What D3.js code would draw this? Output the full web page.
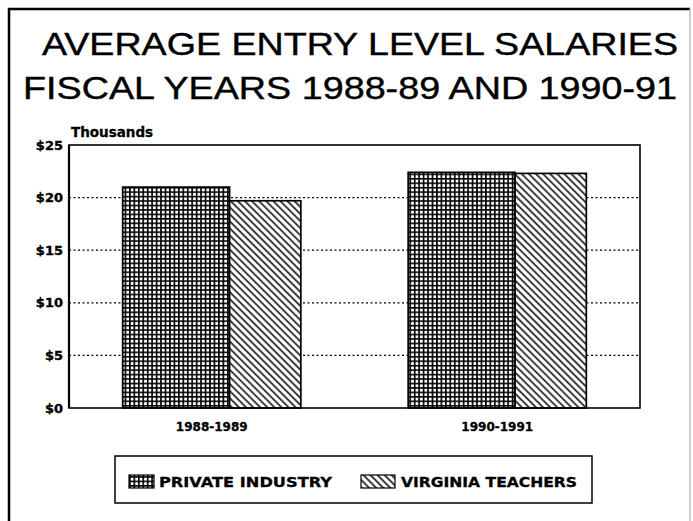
<!DOCTYPE html>
<html>
<head>
<meta charset="utf-8">
<script src="https://cdn.jsdelivr.net/npm/d3@7/dist/d3.min.js"></script>
<style>
  html, body { margin: 0; padding: 0; background: #fff; }
  #chart { width: 693px; height: 521px; }
</style>
</head>
<body>
<div id="chart"></div>
<script>
// chart data
var categories = ["1988-1989", "1990-1991"];
var seriesNames = ["PRIVATE INDUSTRY", "VIRGINIA TEACHERS"];
var privateIndustry = [21.0, 22.4];
var virginiaTeachers = [19.7, 22.3];
var yTicks = [0, 5, 10, 15, 20, 25];
var yTickLabels = ["$0", "$5", "$10", "$15", "$20", "$25"];
var titleLines = ["AVERAGE ENTRY LEVEL SALARIES", "FISCAL YEARS 1988-89 AND 1990-91"];

var visualize = function() {
  var width = 693, height = 521;

  // plot box
  var plot = { left: 69, right: 640, top: 145, bottom: 408 };

  var svg = d3.select("#chart")
    .append("svg")
    .attr("width", width)
    .attr("height", height);

  // hatch patterns
  var defs = svg.append("defs");

  var grid = defs.append("pattern")
    .attr("id", "grid")
    .attr("patternUnits", "userSpaceOnUse")
    .attr("width", 4.45)
    .attr("height", 4.45);
  grid.append("rect").attr("width", 4.45).attr("height", 4.45).attr("fill", "#fff");
  grid.append("path")
    .attr("d", "M0,0.8H4.45M0.8,0V4.45")
    .attr("stroke", "#000")
    .attr("stroke-width", 1.7);

  var hatch = defs.append("pattern")
    .attr("id", "hatch")
    .attr("patternUnits", "userSpaceOnUse")
    .attr("width", 5)
    .attr("height", 5)
    .attr("patternTransform", "rotate(-45)");
  hatch.append("rect").attr("width", 5).attr("height", 5).attr("fill", "#fff");
  hatch.append("line")
    .attr("x1", 1).attr("y1", 0).attr("x2", 1).attr("y2", 5)
    .attr("stroke", "#000")
    .attr("stroke-width", 1.5);

  var fills = ["url(#grid)", "url(#hatch)"];

  // outer frame
  svg.append("path")
    .attr("d", "M9,530V9H690")
    .attr("fill", "none")
    .attr("stroke", "#000")
    .attr("stroke-width", 2.5);
  svg.append("line")
    .attr("x1", 690).attr("y1", 9).attr("x2", 690).attr("y2", 521)
    .attr("stroke", "#bbb")
    .attr("stroke-width", 1.5);

  // title
  var titleX = [42, 23], titleWidths = [636, 654];
  svg.selectAll(".title")
    .data(titleLines)
    .enter().append("text")
    .attr("class", "title")
    .attr("x", function(d, i) { return titleX[i]; })
    .attr("y", function(d, i) { return 55 + i * 43.5; })
    .attr("textLength", function(d, i) { return titleWidths[i]; })
    .attr("lengthAdjust", "spacingAndGlyphs")
    .style("font-family", "'Liberation Sans', Arial, sans-serif")
    .style("font-size", "30.5px")
    .style("fill", "#000")
    .style("stroke", "#000")
    .style("stroke-width", "0.4px")
    .text(function(d) { return d; });

  // scales
  var x0 = d3.scaleBand()
    .domain(categories)
    .range([plot.left, plot.right])
    .padding(0);

  var groupWidth = x0.bandwidth() * 0.624;
  // private bars take the wider share of each group
  var x1 = d3.scaleLinear()
    .domain([0, 1])
    .range([-groupWidth / 2, groupWidth / 2]);
  var shares = [[0, 0.6], [0.6, 1]];

  var y = d3.scaleLinear()
    .domain([0, 25])
    .range([plot.bottom, plot.top]);

  // dotted gridlines
  svg.selectAll(".gridline")
    .data(yTicks.slice(1, -1))
    .enter().append("line")
    .attr("class", "gridline")
    .attr("x1", plot.left)
    .attr("x2", plot.right)
    .attr("y1", function(d) { return y(d); })
    .attr("y2", function(d) { return y(d); })
    .attr("stroke", "#000")
    .attr("stroke-width", 1.2)
    .attr("stroke-dasharray", "2,2.5");

  // bars
  var allSeries = [privateIndustry, virginiaTeachers];
  allSeries.forEach(function(values, s) {
    svg.selectAll(".bar-" + s)
      .data(values)
      .enter().append("rect")
      .attr("class", "bar-" + s)
      .attr("x", function(d, i) { return x0(categories[i]) + x0.bandwidth() / 2 + x1(shares[s][0]); })
      .attr("width", x1(shares[s][1]) - x1(shares[s][0]))
      .attr("y", function(d) { return y(d); })
      .attr("height", function(d) { return y(0) - y(d); })
      .attr("fill", fills[s])
      .attr("stroke", "#000")
      .attr("stroke-width", 1.7);
  });

  // plot frame
  svg.append("rect")
    .attr("x", plot.left)
    .attr("y", plot.top)
    .attr("width", plot.right - plot.left)
    .attr("height", plot.bottom - plot.top)
    .attr("fill", "none")
    .attr("stroke", "#000")
    .attr("stroke-width", 1.6);
  svg.append("line")
    .attr("x1", plot.left).attr("x2", plot.left)
    .attr("y1", plot.top).attr("y2", plot.bottom)
    .attr("stroke", "#000")
    .attr("stroke-width", 2.2);

  // y axis labels
  var yAxis = d3.axisLeft(y)
    .tickValues(yTicks)
    .tickSize(0)
    .tickPadding(6)
    .tickFormat(function(d, i) { return yTickLabels[i]; });
  var yg = svg.append("g")
    .attr("transform", "translate(" + plot.left + ",0)")
    .call(yAxis);
  yg.select(".domain").remove();
  yg.selectAll("text")
    .style("font-family", "'DejaVu Sans', sans-serif")
    .style("font-weight", "bold")
    .style("font-size", "13px")
    .style("stroke", "#000")
    .style("stroke-width", "0.4px")
    .attr("fill", "#000");

  svg.append("text")
    .attr("x", 71)
    .attr("y", 137)
    .style("font-family", "'DejaVu Sans', sans-serif")
    .style("font-weight", "bold")
    .style("font-size", "13.5px")
    .style("stroke", "#000")
    .style("stroke-width", "0.3px")
    .text("Thousands");

  // x axis labels
  var xAxis = d3.axisBottom(x0)
    .tickSize(0)
    .tickPadding(14);
  var xg = svg.append("g")
    .attr("transform", "translate(0," + plot.bottom + ")")
    .call(xAxis);
  xg.select(".domain").remove();
  xg.selectAll("text")
    .style("font-family", "'DejaVu Sans', sans-serif")
    .style("font-weight", "bold")
    .style("font-size", "12px")
    .style("stroke", "#000")
    .style("stroke-width", "0.3px")
    .attr("fill", "#000");

  // legend
  var legend = svg.append("g");
  legend.append("rect")
    .attr("x", 115)
    .attr("y", 456)
    .attr("width", 477)
    .attr("height", 47)
    .attr("fill", "#fff")
    .attr("stroke", "#000")
    .attr("stroke-width", 1.5);

  var swatchX = [129, 361], swatchW = [25, 34], textX = [159, 401], textW = [173, 176];
  seriesNames.forEach(function(name, s) {
    legend.append("rect")
      .attr("x", swatchX[s])
      .attr("y", 475)
      .attr("width", swatchW[s])
      .attr("height", 13)
      .attr("fill", fills[s])
      .attr("stroke", "#000")
      .attr("stroke-width", 1.2);
    legend.append("text")
      .attr("x", textX[s])
      .attr("y", 487)
      .attr("textLength", textW[s])
      .attr("lengthAdjust", "spacingAndGlyphs")
      .style("font-family", "'DejaVu Sans', sans-serif")
      .style("font-weight", "bold")
      .style("font-size", "14px")
      .style("stroke", "#000")
      .style("stroke-width", "0.3px")
      .text(name);
  });
};

visualize();
</script>
</body>
</html>
